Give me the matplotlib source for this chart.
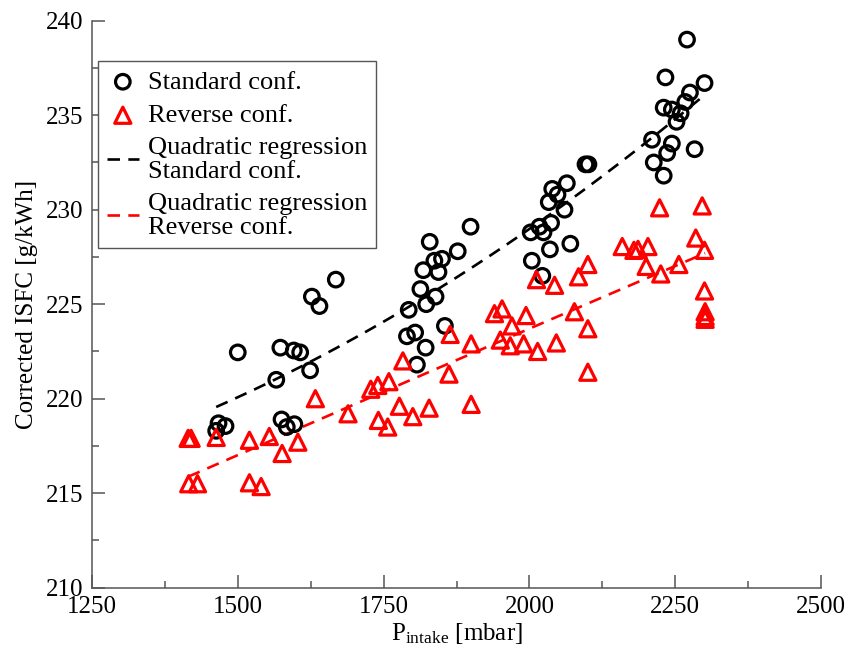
import numpy as np
import matplotlib
matplotlib.use("Agg")
import matplotlib.pyplot as plt
from matplotlib.ticker import MultipleLocator

plt.rcParams['font.family'] = ['Liberation Serif', 'DejaVu Serif']
plt.rcParams['mathtext.fontset'] = 'custom'
plt.rcParams['mathtext.rm'] = 'Liberation Serif'
plt.rcParams['mathtext.it'] = 'Liberation Serif:italic'
plt.rcParams['lines.scale_dashes'] = False

# Standard configuration (black circles)
x_std = [1463, 1467, 1479, 1500, 1566, 1573, 1575, 1584, 1596, 1597, 1607, 1624, 1627, 1640, 1668,
         1790, 1793, 1804, 1807, 1813, 1818, 1822, 1823, 1829, 1837, 1839, 1844, 1850, 1855, 1877, 1899,
         2002, 2004, 2017, 2022, 2024, 2033, 2035, 2037, 2039, 2048, 2060, 2064, 2070, 2096, 2101,
         2210, 2213, 2230, 2230, 2233, 2236, 2244, 2244, 2252, 2259, 2267, 2270, 2275, 2283, 2300]
y_std = [218.3, 218.7, 218.55, 222.45, 221.0, 222.7, 218.9, 218.5, 222.55, 218.65, 222.45, 221.5, 225.4, 224.9, 226.3,
         223.3, 224.7, 223.5, 221.8, 225.8, 226.8, 222.7, 225.0, 228.3, 227.3, 225.4, 226.7, 227.4, 223.85, 227.8, 229.1,
         228.8, 227.3, 229.1, 226.5, 228.8, 230.4, 227.9, 229.3, 231.1, 230.8, 230.0, 231.4, 228.2, 232.4, 232.4,
         233.7, 232.5, 231.8, 235.4, 237.0, 233.0, 235.3, 233.5, 234.65, 235.1, 235.7, 239.0, 236.2, 233.2, 236.7]

# Reverse configuration (red triangles)
x_rev = [1415, 1420, 1416, 1431, 1463, 1520, 1520, 1540, 1554, 1576, 1603, 1633, 1689,
         1728, 1740, 1741, 1757, 1759, 1777, 1783, 1800, 1828, 1862, 1864, 1900, 1900,
         1940, 1950, 1953, 1967, 1970, 1990, 1994, 2012, 2014, 2043, 2046, 2077, 2084, 2100, 2100, 2100,
         2159, 2179, 2186, 2203, 2200, 2223, 2225, 2256, 2285, 2296, 2300, 2300, 2301, 2301, 2301]
y_rev = [217.9, 217.9, 215.5, 215.5, 217.95, 217.8, 215.55, 215.35, 218.0, 217.1, 217.7, 220.0, 219.2,
         220.5, 220.7, 218.85, 218.5, 220.9, 219.6, 222.0, 219.05, 219.5, 221.3, 223.4, 222.9, 219.7,
         224.5, 223.1, 224.75, 222.8, 223.85, 222.9, 224.4, 226.3, 222.5, 226.0, 222.95, 224.6, 226.45, 227.1, 223.7, 221.4,
         228.05, 227.85, 227.9, 228.05, 227.0, 230.1, 226.6, 227.1, 228.5, 230.2, 227.85, 225.7, 224.6, 224.35, 224.2]

x_ticks = [1250, 1500, 1750, 2000, 2250, 2500]
y_ticks = [210, 215, 220, 225, 230, 235, 240]

fig = plt.figure(figsize=(8.51, 6.47), dpi=100)
ax = fig.add_axes([0.108, 0.0917, 0.857, 0.8763])

ax.scatter(x_std, y_std, s=110, facecolors='none', edgecolors='black', linewidths=2.3,
           marker='o', label='Standard conf.', zorder=3)
ax.scatter(x_rev, y_rev, s=135, facecolors='none', edgecolors='red', linewidths=2.3,
           marker='^', label='Reverse conf.', zorder=3)

cs = np.polyfit(x_std, y_std, 2)
xs = np.linspace(min(x_std), max(x_std), 200)
ax.plot(xs, np.polyval(cs, xs), color='black', lw=1.9, dashes=(9, 6),
        label='Quadratic regression\nStandard conf.', zorder=2)
cr = np.polyfit(x_rev, y_rev, 2)
xr = np.linspace(min(x_rev), max(x_rev), 200)
ax.plot(xr, np.polyval(cr, xr), color='red', lw=1.9, dashes=(9, 6),
        label='Quadratic regression\nReverse conf.', zorder=2)

ax.set_xlim(1250, 2500)
ax.set_ylim(210, 240)
ax.set_xticks(x_ticks)
ax.set_yticks(y_ticks)
ax.xaxis.set_minor_locator(MultipleLocator(125))
ax.yaxis.set_minor_locator(MultipleLocator(2.5))

for s in ['top', 'right']:
    ax.spines[s].set_visible(False)
for s in ['left', 'bottom']:
    ax.spines[s].set_color('#555555')
    ax.spines[s].set_linewidth(1.1)

ax.tick_params(which='major', direction='in', length=9.5, width=1.1, color='#555555',
               labelsize=18, pad=6)
ax.tick_params(which='minor', direction='in', length=5, width=1.1, color='#555555')

ax.set_xlabel(r'P$_{\mathrm{intake}}$ [mbar]', fontsize=18, labelpad=2)
ax.set_ylabel('Corrected ISFC [g/kWh]', fontsize=18, labelpad=6)

leg = ax.legend(loc='upper left', bbox_to_anchor=(0.008, 0.929), fontsize=19,
                frameon=True, fancybox=False, edgecolor='#555555', framealpha=1,
                handlelength=1.2, handletextpad=0.35, labelspacing=0.38,
                borderpad=0.35, borderaxespad=0)
for t in leg.get_texts():
    t.set_linespacing(1.1)
leg.get_frame().set_linewidth(1.0)

fig.savefig('out.png', dpi=100)
